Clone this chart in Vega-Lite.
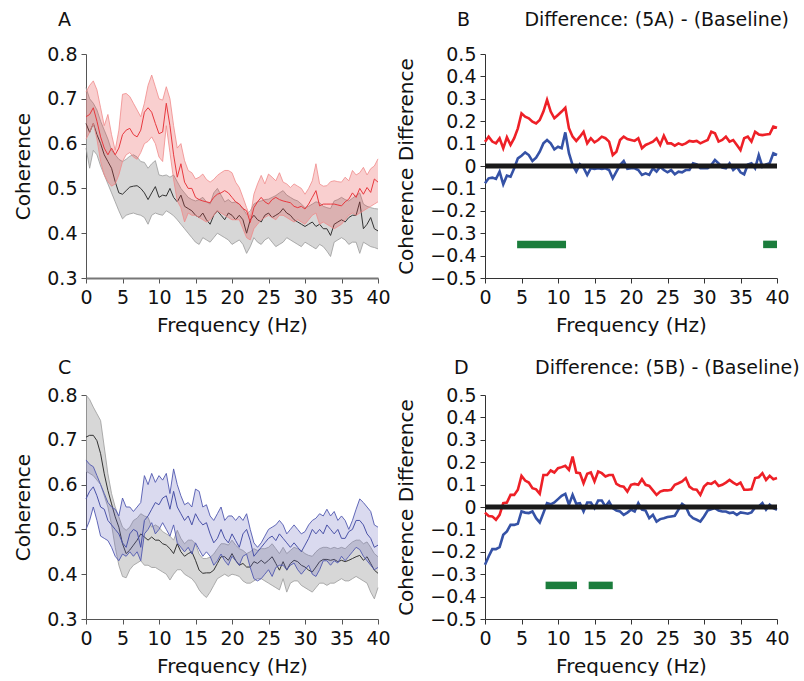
{
"$schema": "https://vega.github.io/schema/vega-lite/v6.json",
"padding": {"left": 13, "top": 11, "right": 0, "bottom": 0},
"config": {
  "font": "DejaVu Sans",
  "view": {"stroke": null},
  "axis": {"grid": false, "labelFont": "DejaVu Sans", "titleFont": "DejaVu Sans", "labelFontSize": 19, "titleFontSize": 20, "titleFontWeight": "normal", "labelColor": "#111", "titleColor": "#111", "domainColor": "#555", "tickColor": "#555", "tickSize": 5, "labelPadding": 4, "labelFlush": false, "labelOverlap": false},
  "axisX": {"labelPadding": 5, "titlePadding": 8},
  "axisY": {"titlePadding": 13},
  "title": {"font": "DejaVu Sans", "fontSize": 19, "fontWeight": "normal", "anchor": "start", "frame": "group", "color": "#111", "baseline": "alphabetic"}
},
"datasets": {
"A": [
{"f":0,"g":"b","m":0.645,"l":0.59,"h":0.725},{"f":0.5,"g":"b","m":0.625,"l":0.545,"h":0.70},{"f":1,"g":"b","m":0.645,"l":0.585,"h":0.69},{"f":1.5,"g":"b","m":0.62,"l":0.575,"h":0.675},{"f":2,"g":"b","m":0.60,"l":0.55,"h":0.65},{"f":2.5,"g":"b","m":0.575,"l":0.53,"h":0.63},{"f":3,"g":"b","m":0.56,"l":0.51,"h":0.61},{"f":3.5,"g":"b","m":0.545,"l":0.49,"h":0.585},{"f":4,"g":"b","m":0.515,"l":0.47,"h":0.575},{"f":4.5,"g":"b","m":0.49,"l":0.45,"h":0.565},
{"f":5,"g":"b","m":0.487,"l":0.432,"h":0.56},{"f":5.5,"g":"b","m":0.495,"l":0.44,"h":0.565},{"f":6,"g":"b","m":0.503,"l":0.443,"h":0.572},{"f":6.5,"g":"b","m":0.505,"l":0.445,"h":0.575},{"f":7,"g":"b","m":0.506,"l":0.442,"h":0.57},{"f":7.5,"g":"b","m":0.50,"l":0.44,"h":0.56},{"f":8,"g":"b","m":0.49,"l":0.435,"h":0.558},{"f":8.5,"g":"b","m":0.475,"l":0.42,"h":0.545},{"f":9,"g":"b","m":0.49,"l":0.44,"h":0.555},{"f":9.5,"g":"b","m":0.504,"l":0.445,"h":0.562},
{"f":10,"g":"b","m":0.48,"l":0.442,"h":0.53},{"f":10.5,"g":"b","m":0.485,"l":0.44,"h":0.528},{"f":11,"g":"b","m":0.483,"l":0.45,"h":0.53},{"f":11.5,"g":"b","m":0.50,"l":0.445,"h":0.525},{"f":12,"g":"b","m":0.48,"l":0.439,"h":0.53},{"f":12.5,"g":"b","m":0.47,"l":0.43,"h":0.515},{"f":13,"g":"b","m":0.485,"l":0.42,"h":0.50},{"f":13.5,"g":"b","m":0.46,"l":0.41,"h":0.49},{"f":14,"g":"b","m":0.455,"l":0.40,"h":0.48},{"f":14.5,"g":"b","m":0.45,"l":0.39,"h":0.475},
{"f":15,"g":"b","m":0.44,"l":0.38,"h":0.472},{"f":15.5,"g":"b","m":0.435,"l":0.375,"h":0.475},{"f":16,"g":"b","m":0.445,"l":0.39,"h":0.48},{"f":16.5,"g":"b","m":0.43,"l":0.385,"h":0.47},{"f":17,"g":"b","m":0.42,"l":0.38,"h":0.465},{"f":17.5,"g":"b","m":0.44,"l":0.39,"h":0.49},{"f":18,"g":"b","m":0.45,"l":0.40,"h":0.50},{"f":18.5,"g":"b","m":0.44,"l":0.395,"h":0.485},{"f":19,"g":"b","m":0.43,"l":0.39,"h":0.47},{"f":19.5,"g":"b","m":0.445,"l":0.385,"h":0.475},
{"f":20,"g":"b","m":0.44,"l":0.375,"h":0.468},{"f":20.5,"g":"b","m":0.43,"l":0.38,"h":0.47},{"f":21,"g":"b","m":0.44,"l":0.385,"h":0.465},{"f":21.5,"g":"b","m":0.43,"l":0.375,"h":0.455},{"f":22,"g":"b","m":0.40,"l":0.355,"h":0.442},{"f":22.5,"g":"b","m":0.43,"l":0.37,"h":0.45},{"f":23,"g":"b","m":0.44,"l":0.39,"h":0.465},{"f":23.5,"g":"b","m":0.43,"l":0.38,"h":0.47},{"f":24,"g":"b","m":0.425,"l":0.375,"h":0.472},{"f":24.5,"g":"b","m":0.44,"l":0.385,"h":0.475},
{"f":25,"g":"b","m":0.445,"l":0.39,"h":0.476},{"f":25.5,"g":"b","m":0.435,"l":0.38,"h":0.48},{"f":26,"g":"b","m":0.44,"l":0.37,"h":0.484},{"f":26.5,"g":"b","m":0.445,"l":0.375,"h":0.49},{"f":27,"g":"b","m":0.455,"l":0.38,"h":0.495},{"f":27.5,"g":"b","m":0.445,"l":0.39,"h":0.485},{"f":28,"g":"b","m":0.44,"l":0.385,"h":0.48},{"f":28.5,"g":"b","m":0.43,"l":0.38,"h":0.475},{"f":29,"g":"b","m":0.425,"l":0.375,"h":0.472},{"f":29.5,"g":"b","m":0.42,"l":0.37,"h":0.465},
{"f":30,"g":"b","m":0.415,"l":0.38,"h":0.457},{"f":30.5,"g":"b","m":0.42,"l":0.375,"h":0.46},{"f":31,"g":"b","m":0.425,"l":0.37,"h":0.465},{"f":31.5,"g":"b","m":0.415,"l":0.365,"h":0.47},{"f":32,"g":"b","m":0.42,"l":0.375,"h":0.468},{"f":32.5,"g":"b","m":0.41,"l":0.37,"h":0.46},{"f":33,"g":"b","m":0.41,"l":0.36,"h":0.457},{"f":33.5,"g":"b","m":0.395,"l":0.348,"h":0.455},{"f":34,"g":"b","m":0.42,"l":0.38,"h":0.472},{"f":34.5,"g":"b","m":0.425,"l":0.385,"h":0.475},
{"f":35,"g":"b","m":0.43,"l":0.39,"h":0.48},{"f":35.5,"g":"b","m":0.425,"l":0.385,"h":0.475},{"f":36,"g":"b","m":0.435,"l":0.375,"h":0.472},{"f":36.5,"g":"b","m":0.44,"l":0.38,"h":0.478},{"f":37,"g":"b","m":0.44,"l":0.38,"h":0.484},{"f":37.5,"g":"b","m":0.47,"l":0.355,"h":0.49},{"f":38,"g":"b","m":0.41,"l":0.38,"h":0.465},{"f":38.5,"g":"b","m":0.42,"l":0.375,"h":0.46},{"f":39,"g":"b","m":0.435,"l":0.37,"h":0.457},{"f":39.5,"g":"b","m":0.41,"l":0.368,"h":0.455},{"f":40,"g":"b","m":0.405,"l":0.365,"h":0.454},
{"f":0,"g":"c","m":0.66,"l":0.61,"h":0.715},{"f":0.5,"g":"c","m":0.665,"l":0.625,"h":0.73},{"f":1,"g":"c","m":0.68,"l":0.645,"h":0.74},{"f":1.5,"g":"c","m":0.65,"l":0.61,"h":0.72},{"f":2,"g":"c","m":0.615,"l":0.56,"h":0.68},{"f":2.5,"g":"c","m":0.59,"l":0.53,"h":0.64},{"f":3,"g":"c","m":0.575,"l":0.515,"h":0.665},{"f":3.5,"g":"c","m":0.59,"l":0.505,"h":0.62},{"f":4,"g":"c","m":0.575,"l":0.51,"h":0.585},{"f":4.5,"g":"c","m":0.59,"l":0.53,"h":0.63},
{"f":5,"g":"c","m":0.62,"l":0.56,"h":0.71},{"f":5.5,"g":"c","m":0.63,"l":0.575,"h":0.712},{"f":6,"g":"c","m":0.634,"l":0.58,"h":0.705},{"f":6.5,"g":"c","m":0.62,"l":0.57,"h":0.69},{"f":7,"g":"c","m":0.615,"l":0.565,"h":0.675},{"f":7.5,"g":"c","m":0.63,"l":0.58,"h":0.66},{"f":8,"g":"c","m":0.67,"l":0.60,"h":0.69},{"f":8.5,"g":"c","m":0.68,"l":0.605,"h":0.73},{"f":9,"g":"c","m":0.67,"l":0.615,"h":0.753},{"f":9.5,"g":"c","m":0.645,"l":0.60,"h":0.727},
{"f":10,"g":"c","m":0.622,"l":0.57,"h":0.70},{"f":10.5,"g":"c","m":0.626,"l":0.56,"h":0.697},{"f":11,"g":"c","m":0.69,"l":0.64,"h":0.727},{"f":11.5,"g":"c","m":0.64,"l":0.58,"h":0.70},{"f":12,"g":"c","m":0.575,"l":0.52,"h":0.64},{"f":12.5,"g":"c","m":0.525,"l":0.472,"h":0.59},{"f":13,"g":"c","m":0.555,"l":0.457,"h":0.60},{"f":13.5,"g":"c","m":0.514,"l":0.425,"h":0.562},{"f":14,"g":"c","m":0.50,"l":0.445,"h":0.54},{"f":14.5,"g":"c","m":0.50,"l":0.44,"h":0.535},
{"f":15,"g":"c","m":0.48,"l":0.44,"h":0.521},{"f":15.5,"g":"c","m":0.475,"l":0.435,"h":0.525},{"f":16,"g":"c","m":0.472,"l":0.43,"h":0.532},{"f":16.5,"g":"c","m":0.47,"l":0.425,"h":0.52},{"f":17,"g":"c","m":0.468,"l":0.43,"h":0.514},{"f":17.5,"g":"c","m":0.48,"l":0.44,"h":0.52},{"f":18,"g":"c","m":0.487,"l":0.45,"h":0.529},{"f":18.5,"g":"c","m":0.49,"l":0.445,"h":0.535},{"f":19,"g":"c","m":0.495,"l":0.44,"h":0.54},{"f":19.5,"g":"c","m":0.49,"l":0.435,"h":0.54},
{"f":20,"g":"c","m":0.48,"l":0.43,"h":0.535},{"f":20.5,"g":"c","m":0.47,"l":0.43,"h":0.514},{"f":21,"g":"c","m":0.465,"l":0.43,"h":0.502},{"f":21.5,"g":"c","m":0.455,"l":0.41,"h":0.48},{"f":22,"g":"c","m":0.45,"l":0.39,"h":0.457},{"f":22.5,"g":"c","m":0.424,"l":0.385,"h":0.435},{"f":23,"g":"c","m":0.457,"l":0.41,"h":0.487},{"f":23.5,"g":"c","m":0.47,"l":0.42,"h":0.51},{"f":24,"g":"c","m":0.48,"l":0.43,"h":0.529},{"f":24.5,"g":"c","m":0.47,"l":0.435,"h":0.51},
{"f":25,"g":"c","m":0.465,"l":0.44,"h":0.532},{"f":25.5,"g":"c","m":0.475,"l":0.435,"h":0.525},{"f":26,"g":"c","m":0.48,"l":0.43,"h":0.517},{"f":26.5,"g":"c","m":0.475,"l":0.44,"h":0.535},{"f":27,"g":"c","m":0.472,"l":0.44,"h":0.514},{"f":27.5,"g":"c","m":0.47,"l":0.435,"h":0.51},{"f":28,"g":"c","m":0.468,"l":0.43,"h":0.502},{"f":28.5,"g":"c","m":0.46,"l":0.425,"h":0.51},{"f":29,"g":"c","m":0.457,"l":0.43,"h":0.505},{"f":29.5,"g":"c","m":0.46,"l":0.425,"h":0.50},
{"f":30,"g":"c","m":0.454,"l":0.42,"h":0.487},{"f":30.5,"g":"c","m":0.465,"l":0.43,"h":0.50},{"f":31,"g":"c","m":0.48,"l":0.44,"h":0.517},{"f":31.5,"g":"c","m":0.495,"l":0.445,"h":0.555},{"f":32,"g":"c","m":0.461,"l":0.42,"h":0.51},{"f":32.5,"g":"c","m":0.465,"l":0.425,"h":0.505},{"f":33,"g":"c","m":0.465,"l":0.42,"h":0.506},{"f":33.5,"g":"c","m":0.465,"l":0.415,"h":0.515},{"f":34,"g":"c","m":0.465,"l":0.41,"h":0.517},{"f":34.5,"g":"c","m":0.463,"l":0.415,"h":0.515},
{"f":35,"g":"c","m":0.461,"l":0.42,"h":0.514},{"f":35.5,"g":"c","m":0.47,"l":0.43,"h":0.525},{"f":36,"g":"c","m":0.476,"l":0.44,"h":0.517},{"f":36.5,"g":"c","m":0.49,"l":0.445,"h":0.54},{"f":37,"g":"c","m":0.48,"l":0.44,"h":0.53},{"f":37.5,"g":"c","m":0.50,"l":0.445,"h":0.535},{"f":38,"g":"c","m":0.487,"l":0.45,"h":0.547},{"f":38.5,"g":"c","m":0.502,"l":0.455,"h":0.53},{"f":39,"g":"c","m":0.491,"l":0.46,"h":0.544},{"f":39.5,"g":"c","m":0.521,"l":0.465,"h":0.55},{"f":40,"g":"c","m":0.514,"l":0.47,"h":0.566}
],
"C": [
{"f":0,"g":"b","m":0.706,"l":0.63,"h":0.80},{"f":0.5,"g":"b","m":0.71,"l":0.625,"h":0.79},{"f":1,"g":"b","m":0.71,"l":0.62,"h":0.773},{"f":1.5,"g":"b","m":0.698,"l":0.61,"h":0.758},{"f":2,"g":"b","m":0.669,"l":0.60,"h":0.743},{"f":2.5,"g":"b","m":0.624,"l":0.575,"h":0.684},{"f":3,"g":"b","m":0.587,"l":0.55,"h":0.624},{"f":3.5,"g":"b","m":0.557,"l":0.51,"h":0.58},{"f":4,"g":"b","m":0.528,"l":0.46,"h":0.55},{"f":4.5,"g":"b","m":0.505,"l":0.42,"h":0.528},
{"f":5,"g":"b","m":0.468,"l":0.395,"h":0.505},{"f":5.5,"g":"b","m":0.446,"l":0.392,"h":0.498},{"f":6,"g":"b","m":0.454,"l":0.41,"h":0.505},{"f":6.5,"g":"b","m":0.465,"l":0.42,"h":0.52},{"f":7,"g":"b","m":0.476,"l":0.425,"h":0.525},{"f":7.5,"g":"b","m":0.49,"l":0.43,"h":0.535},{"f":8,"g":"b","m":0.483,"l":0.42,"h":0.53},{"f":8.5,"g":"b","m":0.476,"l":0.42,"h":0.527},{"f":9,"g":"b","m":0.483,"l":0.415,"h":0.505},{"f":9.5,"g":"b","m":0.476,"l":0.415,"h":0.51},
{"f":10,"g":"b","m":0.476,"l":0.41,"h":0.505},{"f":10.5,"g":"b","m":0.468,"l":0.405,"h":0.495},{"f":11,"g":"b","m":0.465,"l":0.40,"h":0.49},{"f":11.5,"g":"b","m":0.457,"l":0.387,"h":0.485},{"f":12,"g":"b","m":0.446,"l":0.40,"h":0.476},{"f":12.5,"g":"b","m":0.468,"l":0.41,"h":0.498},{"f":13,"g":"b","m":0.45,"l":0.41,"h":0.48},{"f":13.5,"g":"b","m":0.44,"l":0.40,"h":0.468},{"f":14,"g":"b","m":0.446,"l":0.395,"h":0.476},{"f":14.5,"g":"b","m":0.45,"l":0.39,"h":0.476},
{"f":15,"g":"b","m":0.431,"l":0.38,"h":0.468},{"f":15.5,"g":"b","m":0.409,"l":0.365,"h":0.445},{"f":16,"g":"b","m":0.402,"l":0.355,"h":0.435},{"f":16.5,"g":"b","m":0.403,"l":0.348,"h":0.435},{"f":17,"g":"b","m":0.403,"l":0.36,"h":0.438},{"f":17.5,"g":"b","m":0.409,"l":0.375,"h":0.445},{"f":18,"g":"b","m":0.424,"l":0.39,"h":0.457},{"f":18.5,"g":"b","m":0.439,"l":0.395,"h":0.468},{"f":19,"g":"b","m":0.439,"l":0.40,"h":0.468},{"f":19.5,"g":"b","m":0.431,"l":0.395,"h":0.465},
{"f":20,"g":"b","m":0.446,"l":0.40,"h":0.476},{"f":20.5,"g":"b","m":0.431,"l":0.398,"h":0.465},{"f":21,"g":"b","m":0.42,"l":0.395,"h":0.457},{"f":21.5,"g":"b","m":0.424,"l":0.385,"h":0.453},{"f":22,"g":"b","m":0.416,"l":0.38,"h":0.446},{"f":22.5,"g":"b","m":0.416,"l":0.38,"h":0.45},{"f":23,"g":"b","m":0.428,"l":0.385,"h":0.457},{"f":23.5,"g":"b","m":0.424,"l":0.39,"h":0.453},{"f":24,"g":"b","m":0.431,"l":0.39,"h":0.457},{"f":24.5,"g":"b","m":0.424,"l":0.385,"h":0.457},
{"f":25,"g":"b","m":0.431,"l":0.38,"h":0.46},{"f":25.5,"g":"b","m":0.439,"l":0.375,"h":0.468},{"f":26,"g":"b","m":0.424,"l":0.37,"h":0.457},{"f":26.5,"g":"b","m":0.409,"l":0.365,"h":0.446},{"f":27,"g":"b","m":0.428,"l":0.39,"h":0.46},{"f":27.5,"g":"b","m":0.409,"l":0.36,"h":0.446},{"f":28,"g":"b","m":0.424,"l":0.38,"h":0.453},{"f":28.5,"g":"b","m":0.431,"l":0.385,"h":0.46},{"f":29,"g":"b","m":0.428,"l":0.385,"h":0.457},{"f":29.5,"g":"b","m":0.42,"l":0.375,"h":0.453},
{"f":30,"g":"b","m":0.416,"l":0.37,"h":0.446},{"f":30.5,"g":"b","m":0.409,"l":0.365,"h":0.442},{"f":31,"g":"b","m":0.405,"l":0.36,"h":0.44},{"f":31.5,"g":"b","m":0.416,"l":0.37,"h":0.45},{"f":32,"g":"b","m":0.428,"l":0.38,"h":0.457},{"f":32.5,"g":"b","m":0.433,"l":0.38,"h":0.46},{"f":33,"g":"b","m":0.433,"l":0.375,"h":0.46},{"f":33.5,"g":"b","m":0.431,"l":0.38,"h":0.457},{"f":34,"g":"b","m":0.433,"l":0.38,"h":0.46},{"f":34.5,"g":"b","m":0.428,"l":0.385,"h":0.457},
{"f":35,"g":"b","m":0.431,"l":0.39,"h":0.46},{"f":35.5,"g":"b","m":0.428,"l":0.385,"h":0.457},{"f":36,"g":"b","m":0.431,"l":0.385,"h":0.465},{"f":36.5,"g":"b","m":0.435,"l":0.39,"h":0.472},{"f":37,"g":"b","m":0.439,"l":0.395,"h":0.476},{"f":37.5,"g":"b","m":0.442,"l":0.39,"h":0.476},{"f":38,"g":"b","m":0.431,"l":0.385,"h":0.468},{"f":38.5,"g":"b","m":0.439,"l":0.38,"h":0.472},{"f":39,"g":"b","m":0.424,"l":0.36,"h":0.46},{"f":39.5,"g":"b","m":0.409,"l":0.345,"h":0.446},{"f":40,"g":"b","m":0.402,"l":0.37,"h":0.439},
{"f":0,"g":"c","m":0.568,"l":0.50,"h":0.655},{"f":0.5,"g":"c","m":0.585,"l":0.52,"h":0.645},{"f":1,"g":"c","m":0.595,"l":0.55,"h":0.64},{"f":1.5,"g":"c","m":0.575,"l":0.52,"h":0.62},{"f":2,"g":"c","m":0.55,"l":0.485,"h":0.60},{"f":2.5,"g":"c","m":0.545,"l":0.48,"h":0.58},{"f":3,"g":"c","m":0.52,"l":0.475,"h":0.56},{"f":3.5,"g":"c","m":0.51,"l":0.46,"h":0.55},{"f":4,"g":"c","m":0.50,"l":0.44,"h":0.545},{"f":4.5,"g":"c","m":0.49,"l":0.43,"h":0.53},
{"f":5,"g":"c","m":0.47,"l":0.445,"h":0.57},{"f":5.5,"g":"c","m":0.46,"l":0.44,"h":0.55},{"f":6,"g":"c","m":0.49,"l":0.45,"h":0.55},{"f":6.5,"g":"c","m":0.50,"l":0.44,"h":0.54},{"f":7,"g":"c","m":0.495,"l":0.45,"h":0.55},{"f":7.5,"g":"c","m":0.46,"l":0.43,"h":0.56},{"f":8,"g":"c","m":0.52,"l":0.49,"h":0.62},{"f":8.5,"g":"c","m":0.53,"l":0.50,"h":0.60},{"f":9,"g":"c","m":0.545,"l":0.515,"h":0.625},{"f":9.5,"g":"c","m":0.56,"l":0.49,"h":0.605},
{"f":10,"g":"c","m":0.555,"l":0.50,"h":0.62},{"f":10.5,"g":"c","m":0.57,"l":0.515,"h":0.61},{"f":11,"g":"c","m":0.575,"l":0.50,"h":0.625},{"f":11.5,"g":"c","m":0.545,"l":0.485,"h":0.58},{"f":12,"g":"c","m":0.585,"l":0.51,"h":0.635},{"f":12.5,"g":"c","m":0.55,"l":0.47,"h":0.60},{"f":13,"g":"c","m":0.535,"l":0.46,"h":0.575},{"f":13.5,"g":"c","m":0.52,"l":0.45,"h":0.555},{"f":14,"g":"c","m":0.53,"l":0.46,"h":0.56},{"f":14.5,"g":"c","m":0.51,"l":0.445,"h":0.55},
{"f":15,"g":"c","m":0.535,"l":0.47,"h":0.59},{"f":15.5,"g":"c","m":0.52,"l":0.455,"h":0.585},{"f":16,"g":"c","m":0.51,"l":0.44,"h":0.55},{"f":16.5,"g":"c","m":0.515,"l":0.45,"h":0.555},{"f":17,"g":"c","m":0.49,"l":0.44,"h":0.53},{"f":17.5,"g":"c","m":0.47,"l":0.42,"h":0.52},{"f":18,"g":"c","m":0.48,"l":0.43,"h":0.535},{"f":18.5,"g":"c","m":0.50,"l":0.445,"h":0.55},{"f":19,"g":"c","m":0.48,"l":0.43,"h":0.52},{"f":19.5,"g":"c","m":0.47,"l":0.42,"h":0.53},
{"f":20,"g":"c","m":0.49,"l":0.44,"h":0.53},{"f":20.5,"g":"c","m":0.475,"l":0.43,"h":0.52},{"f":21,"g":"c","m":0.46,"l":0.42,"h":0.53},{"f":21.5,"g":"c","m":0.49,"l":0.44,"h":0.52},{"f":22,"g":"c","m":0.50,"l":0.445,"h":0.535},{"f":22.5,"g":"c","m":0.475,"l":0.415,"h":0.50},{"f":23,"g":"c","m":0.44,"l":0.39,"h":0.47},{"f":23.5,"g":"c","m":0.45,"l":0.385,"h":0.46},{"f":24,"g":"c","m":0.46,"l":0.39,"h":0.47},{"f":24.5,"g":"c","m":0.47,"l":0.40,"h":0.485},
{"f":25,"g":"c","m":0.48,"l":0.41,"h":0.50},{"f":25.5,"g":"c","m":0.485,"l":0.395,"h":0.505},{"f":26,"g":"c","m":0.475,"l":0.415,"h":0.51},{"f":26.5,"g":"c","m":0.49,"l":0.42,"h":0.52},{"f":27,"g":"c","m":0.48,"l":0.42,"h":0.51},{"f":27.5,"g":"c","m":0.47,"l":0.41,"h":0.49},{"f":28,"g":"c","m":0.46,"l":0.42,"h":0.50},{"f":28.5,"g":"c","m":0.47,"l":0.425,"h":0.51},{"f":29,"g":"c","m":0.46,"l":0.41,"h":0.50},{"f":29.5,"g":"c","m":0.45,"l":0.40,"h":0.49},
{"f":30,"g":"c","m":0.465,"l":0.41,"h":0.495},{"f":30.5,"g":"c","m":0.48,"l":0.42,"h":0.51},{"f":31,"g":"c","m":0.50,"l":0.40,"h":0.52},{"f":31.5,"g":"c","m":0.49,"l":0.395,"h":0.525},{"f":32,"g":"c","m":0.50,"l":0.41,"h":0.535},{"f":32.5,"g":"c","m":0.49,"l":0.43,"h":0.53},{"f":33,"g":"c","m":0.51,"l":0.43,"h":0.545},{"f":33.5,"g":"c","m":0.50,"l":0.42,"h":0.53},{"f":34,"g":"c","m":0.49,"l":0.43,"h":0.54},{"f":34.5,"g":"c","m":0.50,"l":0.425,"h":0.52},
{"f":35,"g":"c","m":0.48,"l":0.44,"h":0.53},{"f":35.5,"g":"c","m":0.48,"l":0.43,"h":0.52},{"f":36,"g":"c","m":0.495,"l":0.44,"h":0.50},{"f":36.5,"g":"c","m":0.50,"l":0.45,"h":0.52},{"f":37,"g":"c","m":0.52,"l":0.46,"h":0.545},{"f":37.5,"g":"c","m":0.52,"l":0.455,"h":0.568},{"f":38,"g":"c","m":0.51,"l":0.44,"h":0.56},{"f":38.5,"g":"c","m":0.49,"l":0.43,"h":0.55},{"f":39,"g":"c","m":0.48,"l":0.42,"h":0.54},{"f":39.5,"g":"c","m":0.46,"l":0.41,"h":0.51},{"f":40,"g":"c","m":0.465,"l":0.415,"h":0.505}
],
"B": [
{"f":0,"r":0.108,"b":-0.077},{"f":0.5,"r":0.131,"b":-0.055},{"f":1,"r":0.109,"b":-0.052},{"f":1.5,"r":0.101,"b":-0.058},{"f":2,"r":0.124,"b":-0.025},{"f":2.5,"r":0.079,"b":-0.082},{"f":3,"r":0.128,"b":-0.043},{"f":3.5,"r":0.094,"b":-0.048},{"f":4,"r":0.124,"b":-0.01},{"f":4.5,"r":0.168,"b":0.034},
{"f":5,"r":0.235,"b":0.046},{"f":5.5,"r":0.22,"b":0.061},{"f":6,"r":0.213,"b":0.049},{"f":6.5,"r":0.198,"b":0.022},{"f":7,"r":0.19,"b":0.037},{"f":7.5,"r":0.205,"b":0.064},{"f":8,"r":0.243,"b":0.101},{"f":8.5,"r":0.295,"b":0.116},{"f":9,"r":0.243,"b":0.101},{"f":9.5,"r":0.213,"b":0.074},
{"f":10,"r":0.228,"b":0.086},{"f":10.5,"r":0.243,"b":0.079},{"f":11,"r":0.26,"b":0.15},{"f":11.5,"r":0.168,"b":0.057},{"f":12,"r":0.131,"b":0.004},{"f":12.5,"r":0.112,"b":-0.025},{"f":13,"r":0.131,"b":0.007},{"f":13.5,"r":0.153,"b":-0.007},{"f":14,"r":0.101,"b":-0.04},{"f":14.5,"r":0.124,"b":-0.01},
{"f":15,"r":0.106,"b":-0.013},{"f":15.5,"r":0.116,"b":-0.01},{"f":16,"r":0.131,"b":-0.013},{"f":16.5,"r":0.124,"b":-0.01},{"f":17,"r":0.109,"b":-0.018},{"f":17.5,"r":0.049,"b":-0.055},{"f":18,"r":0.064,"b":-0.025},{"f":18.5,"r":0.116,"b":0.004},{"f":19,"r":0.131,"b":0.022},{"f":19.5,"r":0.12,"b":-0.013},
{"f":20,"r":0.116,"b":-0.01},{"f":20.5,"r":0.112,"b":-0.01},{"f":21,"r":0.124,"b":-0.018},{"f":21.5,"r":0.079,"b":-0.04},{"f":22,"r":0.094,"b":-0.033},{"f":22.5,"r":0.101,"b":-0.04},{"f":23,"r":0.109,"b":-0.01},{"f":23.5,"r":0.124,"b":-0.025},{"f":24,"r":0.094,"b":-0.003},{"f":24.5,"r":0.135,"b":-0.018},
{"f":25,"r":0.101,"b":-0.028},{"f":25.5,"r":0.101,"b":-0.018},{"f":26,"r":0.091,"b":-0.037},{"f":26.5,"r":0.101,"b":-0.025},{"f":27,"r":0.094,"b":-0.028},{"f":27.5,"r":0.101,"b":-0.018},{"f":28,"r":0.112,"b":-0.018},{"f":28.5,"r":0.109,"b":0.012},{"f":29,"r":0.112,"b":0.007},{"f":29.5,"r":0.101,"b":-0.01},
{"f":30,"r":0.109,"b":-0.01},{"f":30.5,"r":0.116,"b":-0.01},{"f":31,"r":0.153,"b":0.004},{"f":31.5,"r":0.146,"b":0.027},{"f":32,"r":0.109,"b":0.012},{"f":32.5,"r":0.116,"b":-0.007},{"f":33,"r":0.131,"b":-0.01},{"f":33.5,"r":0.109,"b":0.012},{"f":34,"r":0.116,"b":-0.018},{"f":34.5,"r":0.094,"b":-0.003},
{"f":35,"r":0.071,"b":-0.028},{"f":35.5,"r":0.124,"b":-0.037},{"f":36,"r":0.131,"b":0.007},{"f":36.5,"r":0.109,"b":0.012},{"f":37,"r":0.153,"b":-0.01},{"f":37.5,"r":0.141,"b":0.049},{"f":38,"r":0.138,"b":-0.003},{"f":38.5,"r":0.141,"b":0.007},{"f":39,"r":0.143,"b":0.012},{"f":39.5,"r":0.176,"b":0.057},{"f":40,"r":0.171,"b":0.049}
],
"D": [
{"f":0,"r":-0.025,"b":-0.258},{"f":0.5,"r":-0.04,"b":-0.221},{"f":1,"r":-0.042,"b":-0.188},{"f":1.5,"r":-0.057,"b":-0.188},{"f":2,"r":-0.035,"b":-0.179},{"f":2.5,"r":0.017,"b":-0.124},{"f":3,"r":0.02,"b":-0.109},{"f":3.5,"r":0.054,"b":-0.08},{"f":4,"r":0.054,"b":-0.08},{"f":4.5,"r":0.077,"b":-0.075},
{"f":5,"r":0.139,"b":-0.02},{"f":5.5,"r":0.118,"b":-0.025},{"f":6,"r":0.109,"b":-0.027},{"f":6.5,"r":0.084,"b":-0.02},{"f":7,"r":0.079,"b":-0.05},{"f":7.5,"r":0.059,"b":-0.069},{"f":8,"r":0.143,"b":-0.027},{"f":8.5,"r":0.143,"b":0.017},{"f":9,"r":0.163,"b":0.012},{"f":9.5,"r":0.154,"b":0.02},
{"f":10,"r":0.173,"b":0.035},{"f":10.5,"r":0.178,"b":0.05},{"f":11,"r":0.184,"b":0.059},{"f":11.5,"r":0.166,"b":0.01},{"f":12,"r":0.225,"b":0.054},{"f":12.5,"r":0.154,"b":0.014},{"f":13,"r":0.151,"b":0.017},{"f":13.5,"r":0.106,"b":-0.02},{"f":14,"r":0.148,"b":0.02},{"f":14.5,"r":0.154,"b":0.02},
{"f":15,"r":0.114,"b":-0.005},{"f":15.5,"r":0.158,"b":0.029},{"f":16,"r":0.151,"b":0.029},{"f":16.5,"r":0.136,"b":0.002},{"f":17,"r":0.143,"b":0.024},{"f":17.5,"r":0.143,"b":-0.005},{"f":18,"r":0.103,"b":-0.016},{"f":18.5,"r":0.094,"b":-0.02},{"f":19,"r":0.091,"b":-0.035},{"f":19.5,"r":0.069,"b":-0.025},
{"f":20,"r":0.099,"b":-0.012},{"f":20.5,"r":0.103,"b":-0.02},{"f":21,"r":0.099,"b":0.017},{"f":21.5,"r":0.124,"b":-0.012},{"f":22,"r":0.099,"b":-0.016},{"f":22.5,"r":0.094,"b":-0.05},{"f":23,"r":0.074,"b":-0.035},{"f":23.5,"r":0.054,"b":-0.065},{"f":24,"r":0.069,"b":-0.054},{"f":24.5,"r":0.074,"b":-0.05},
{"f":25,"r":0.074,"b":-0.045},{"f":25.5,"r":0.077,"b":-0.042},{"f":26,"r":0.099,"b":-0.039},{"f":26.5,"r":0.106,"b":-0.012},{"f":27,"r":0.114,"b":0.014},{"f":27.5,"r":0.129,"b":0.002},{"f":28,"r":0.091,"b":-0.035},{"f":28.5,"r":0.079,"b":-0.05},{"f":29,"r":0.077,"b":-0.057},{"f":29.5,"r":0.054,"b":-0.065},
{"f":30,"r":0.091,"b":-0.042},{"f":30.5,"r":0.106,"b":-0.016},{"f":31,"r":0.103,"b":-0.01},{"f":31.5,"r":0.114,"b":-0.005},{"f":32,"r":0.094,"b":-0.016},{"f":32.5,"r":0.099,"b":-0.02},{"f":33,"r":0.109,"b":-0.02},{"f":33.5,"r":0.121,"b":-0.027},{"f":34,"r":0.109,"b":-0.024},{"f":34.5,"r":0.099,"b":-0.035},
{"f":35,"r":0.109,"b":-0.024},{"f":35.5,"r":0.077,"b":-0.027},{"f":36,"r":0.077,"b":-0.03},{"f":36.5,"r":0.079,"b":-0.024},{"f":37,"r":0.129,"b":-0.002},{"f":37.5,"r":0.133,"b":0.002},{"f":38,"r":0.151,"b":0.017},{"f":38.5,"r":0.121,"b":-0.012},{"f":39,"r":0.139,"b":0.01},{"f":39.5,"r":0.124,"b":-0.005},{"f":40,"r":0.129,"b":-0.012}
],
"sigB": [{"a":4.4,"z":11.1,"y":-0.35},{"a":38.1,"z":40,"y":-0.35}],
"sigD": [{"a":8.3,"z":12.6,"y":-0.35},{"a":14.2,"z":17.5,"y":-0.35}]
},
"bounds": "flush",
"columns": 2,
"spacing": {"row": 117, "column": 107},
"concat": [
{
 "width": 292, "height": 224,
 "title": {"text": "A", "dx": -28, "offset": 15},
 "data": {"name": "A"},
 "encoding": {"x": {"field": "f", "type": "quantitative", "scale": {"domain": [0, 40], "nice": false}, "axis": {"values": [0,5,10,15,20,25,30,35,40], "labelOverlap": false, "title": "Frequency (Hz)", "domainWidth": 2, "domainColor": "#777"}}},
 "layer": [
  {"transform": [{"filter": "datum.g == 'b'"}], "mark": {"type": "area", "color": "#bdbdbd", "opacity": 0.6},
   "encoding": {"y": {"field": "l", "type": "quantitative", "title": "Coherence", "scale": {"domain": [0.3, 0.8], "nice": false}, "axis": {"values": [0.3,0.4,0.5,0.6,0.7,0.8], "format": ".1f", "labelOverlap": false}}, "y2": {"field": "h"}}},
  {"transform": [{"filter": "datum.g == 'b'"}, {"fold": ["l", "h"], "as": ["k", "v"]}], "mark": {"type": "line", "color": "#9a9a9a", "strokeWidth": 0.8},
   "encoding": {"y": {"field": "v", "type": "quantitative", "title": "Coherence"}, "detail": {"field": "k"}}},
  {"transform": [{"filter": "datum.g == 'b'"}], "mark": {"type": "line", "color": "#333333", "strokeWidth": 1},
   "encoding": {"y": {"field": "m", "type": "quantitative", "title": "Coherence"}}},
  {"transform": [{"filter": "datum.g == 'c'"}], "mark": {"type": "area", "color": "#e84040", "opacity": 0.25},
   "encoding": {"y": {"field": "l", "type": "quantitative", "title": "Coherence"}, "y2": {"field": "h"}}},
  {"transform": [{"filter": "datum.g == 'c'"}, {"fold": ["l", "h"], "as": ["k", "v"]}], "mark": {"type": "line", "color": "#f08a8a", "strokeWidth": 0.8},
   "encoding": {"y": {"field": "v", "type": "quantitative", "title": "Coherence"}, "detail": {"field": "k"}}},
  {"transform": [{"filter": "datum.g == 'c'"}], "mark": {"type": "line", "color": "#e8383e", "strokeWidth": 1},
   "encoding": {"y": {"field": "m", "type": "quantitative", "title": "Coherence"}}}
 ]
},
{
 "width": 292, "height": 224,
 "title": {"text": "B\u00a0\u00a0\u00a0\u00a0\u00a0\u00a0\u00a0\u00a0\u00a0Difference: (5A) - (Baseline)", "dx": -28, "offset": 15},
 "data": {"name": "B"},
 "encoding": {
   "x": {"field": "f", "type": "quantitative", "title": "Frequency (Hz)", "scale": {"domain": [0, 40], "nice": false}, "axis": {"values": [0,5,10,15,20,25,30,35,40], "labelOverlap": false, "domainColor": "#333", "tickColor": "#333"}},
   "y": {"field": "r", "type": "quantitative", "title": "Coherence Difference", "scale": {"domain": [-0.5, 0.5], "nice": false}, "axis": {"values": [-0.5,-0.4,-0.3,-0.2,-0.1,0,0.1,0.2,0.3,0.4,0.5], "format": ".1~f", "labelOverlap": false, "domainColor": "#333", "tickColor": "#333"}}
 },
 "layer": [
  {"mark": {"type": "line", "color": "#ee2027", "strokeWidth": 2.6}},
  {"mark": {"type": "line", "color": "#3552a6", "strokeWidth": 2.6}, "encoding": {"y": {"field": "b", "type": "quantitative", "title": "Coherence Difference"}}},
  {"mark": {"type": "line", "color": "#1a1a1a", "strokeWidth": 5}, "encoding": {"y": {"datum": 0, "type": "quantitative", "title": "Coherence Difference"}}},
  {"data": {"name": "sigB"}, "mark": {"type": "rule", "color": "#1b7d3c", "strokeWidth": 7.5, "strokeCap": "butt"},
   "encoding": {"x": {"field": "a", "type": "quantitative", "title": "Frequency (Hz)"}, "x2": {"field": "z"}, "y": {"field": "y", "type": "quantitative", "title": "Coherence Difference"}}}
 ]
},
{
 "width": 292, "height": 224,
 "title": {"text": "C", "dx": -28, "offset": 8},
 "data": {"name": "C"},
 "encoding": {"x": {"field": "f", "type": "quantitative", "scale": {"domain": [0, 40], "nice": false}, "axis": {"values": [0,5,10,15,20,25,30,35,40], "labelOverlap": false, "title": "Frequency (Hz)"}}},
 "layer": [
  {"transform": [{"filter": "datum.g == 'b'"}], "mark": {"type": "area", "color": "#bdbdbd", "opacity": 0.6},
   "encoding": {"y": {"field": "l", "type": "quantitative", "title": "Coherence", "scale": {"domain": [0.3, 0.8], "nice": false}, "axis": {"values": [0.3,0.4,0.5,0.6,0.7,0.8], "format": ".1f", "labelOverlap": false}}, "y2": {"field": "h"}}},
  {"transform": [{"filter": "datum.g == 'b'"}, {"fold": ["l", "h"], "as": ["k", "v"]}], "mark": {"type": "line", "color": "#9a9a9a", "strokeWidth": 0.8},
   "encoding": {"y": {"field": "v", "type": "quantitative", "title": "Coherence"}, "detail": {"field": "k"}}},
  {"transform": [{"filter": "datum.g == 'b'"}], "mark": {"type": "line", "color": "#333333", "strokeWidth": 1},
   "encoding": {"y": {"field": "m", "type": "quantitative", "title": "Coherence"}}},
  {"transform": [{"filter": "datum.g == 'c'"}], "mark": {"type": "area", "color": "#6a6ac0", "opacity": 0.25},
   "encoding": {"y": {"field": "l", "type": "quantitative", "title": "Coherence"}, "y2": {"field": "h"}}},
  {"transform": [{"filter": "datum.g == 'c'"}, {"fold": ["l", "h"], "as": ["k", "v"]}], "mark": {"type": "line", "color": "#5058b0", "strokeWidth": 0.9},
   "encoding": {"y": {"field": "v", "type": "quantitative", "title": "Coherence"}, "detail": {"field": "k"}}},
  {"transform": [{"filter": "datum.g == 'c'"}], "mark": {"type": "line", "color": "#4a52a8", "strokeWidth": 1},
   "encoding": {"y": {"field": "m", "type": "quantitative", "title": "Coherence"}}}
 ]
},
{
 "width": 292, "height": 224,
 "title": {"text": "D\u00a0\u00a0\u00a0\u00a0\u00a0\u00a0\u00a0\u00a0\u00a0\u00a0\u00a0Difference: (5B) - (Baseline)", "dx": -31, "offset": 8},
 "data": {"name": "D"},
 "encoding": {
   "x": {"field": "f", "type": "quantitative", "title": "Frequency (Hz)", "scale": {"domain": [0, 40], "nice": false}, "axis": {"values": [0,5,10,15,20,25,30,35,40], "labelOverlap": false, "domainColor": "#333", "tickColor": "#333"}},
   "y": {"field": "r", "type": "quantitative", "title": "Coherence Difference", "scale": {"domain": [-0.5, 0.5], "nice": false}, "axis": {"values": [-0.5,-0.4,-0.3,-0.2,-0.1,0,0.1,0.2,0.3,0.4,0.5], "format": ".1~f", "labelOverlap": false, "domainColor": "#333", "tickColor": "#333"}}
 },
 "layer": [
  {"mark": {"type": "line", "color": "#ee2027", "strokeWidth": 2.6}},
  {"mark": {"type": "line", "color": "#3552a6", "strokeWidth": 2.6}, "encoding": {"y": {"field": "b", "type": "quantitative", "title": "Coherence Difference"}}},
  {"mark": {"type": "line", "color": "#1a1a1a", "strokeWidth": 5}, "encoding": {"y": {"datum": 0, "type": "quantitative", "title": "Coherence Difference"}}},
  {"data": {"name": "sigD"}, "mark": {"type": "rule", "color": "#1b7d3c", "strokeWidth": 7.5, "strokeCap": "butt"},
   "encoding": {"x": {"field": "a", "type": "quantitative", "title": "Frequency (Hz)"}, "x2": {"field": "z"}, "y": {"field": "y", "type": "quantitative", "title": "Coherence Difference"}}}
 ]
}
]
}
